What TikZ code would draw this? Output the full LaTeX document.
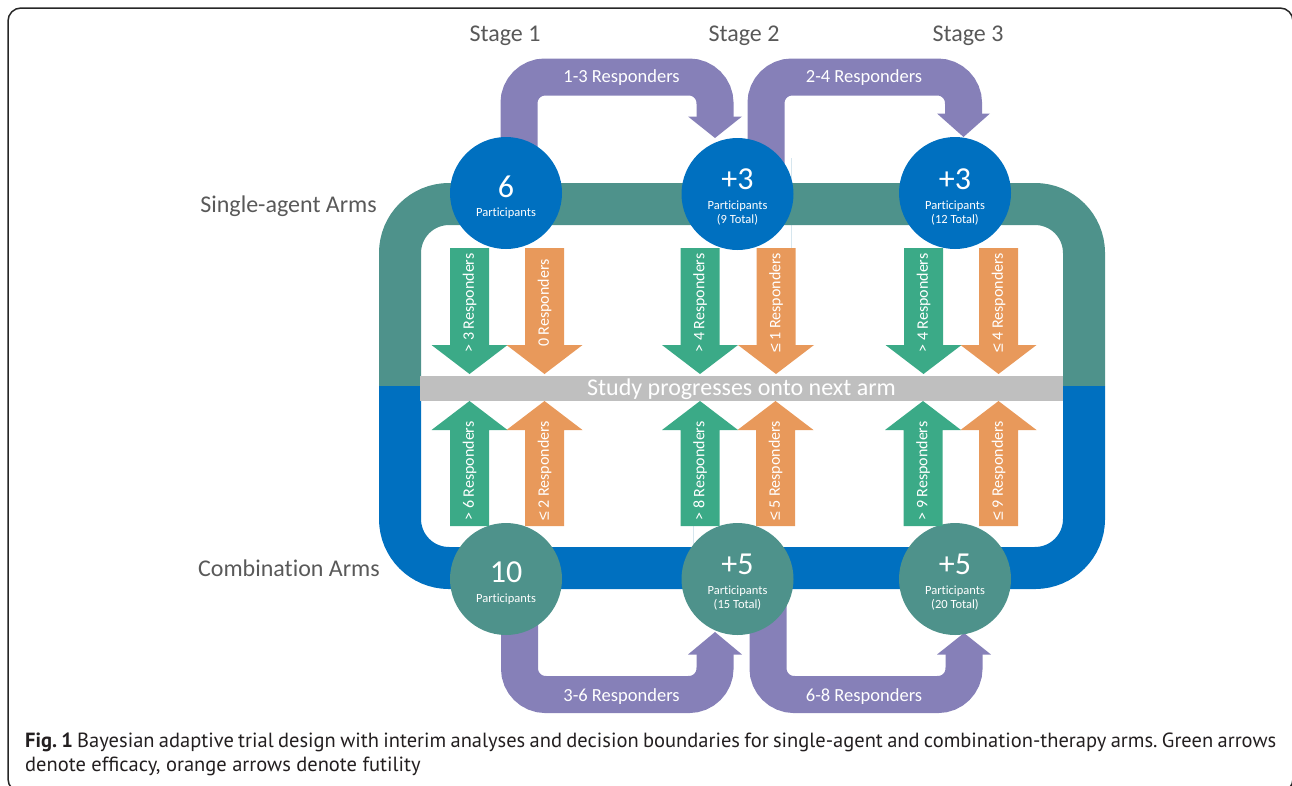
\documentclass[tikz,border=0pt]{standalone}
\usepackage{fontspec}
\setmainfont{Carlito}[Ligatures={NoCommon,NoRare}]
\newfontfamily\capfont{PT Sans}
\newfontfamily\lsansfont{Liberation Sans}
\newcommand{\leqsym}{{\lsansfont ≤}}
\frenchspacing

\definecolor{loopteal}{HTML}{4E928B}
\definecolor{loopblue}{HTML}{0070C0}
\definecolor{purp}{HTML}{8680B8}
\definecolor{grn}{HTML}{3BAA87}
\definecolor{org}{HTML}{E8995B}
\definecolor{barg}{HTML}{BFBFBF}
\definecolor{lblg}{HTML}{595959}
\definecolor{capink}{HTML}{231F20}
\definecolor{hairline}{HTML}{D6E6EE}

% down-pointing decision arrow (name, x centre, colour, label)
\newcommand{\decdown}[4]{%
  \fill[#3] (#2-19.5,248) -- (#2+19.5,248) -- (#2+19.5,345) -- (#2+38,345)
     -- (#2,374) -- (#2-38,345) -- (#2-19.5,345) -- cycle;
  \node[declabel] (#1) at (#2,303) {#4};
}
% up-pointing decision arrow (name, x centre, colour, label)
\newcommand{\decup}[4]{%
  \fill[#3] (#2-19.5,526) -- (#2+19.5,526) -- (#2+19.5,430) -- (#2+38,430)
     -- (#2,401) -- (#2-38,430) -- (#2-19.5,430) -- cycle;
  \node[declabel] (#1) at (#2,471) {#4};
}

\begin{document}
\begin{tikzpicture}[x=1pt,y=-1pt,
  stagelbl/.style={font=\fontsize{24}{28}\selectfont, text=lblg, anchor=base, inner sep=0},
  armlbl/.style={font=\fontsize{24}{28}\selectfont, text=lblg, anchor=base east, inner sep=0},
  bignum/.style={font=\fontsize{32}{36}\selectfont, text=white, anchor=base, inner sep=0},
  smalltxt/.style={font=\fontsize{12.5}{14}\selectfont, text=white, anchor=base, inner sep=0},
  resptxt/.style={font=\fontsize{18.5}{22}\selectfont, text=white, anchor=base, inner sep=0},
  declabel/.style={font=\fontsize{16}{19}\selectfont, text=white, rotate=90, inner sep=0},
  barlbl/.style={font=\fontsize{24}{28}\selectfont, text=white, anchor=base, inner sep=0},
  pband/.style={draw=purp, line width=37, rounded corners=26},
  headtri/.style={fill=purp},
  loopband/.style={line width=42, rounded corners=49},
  topcirc/.style={circle, fill=loopblue, minimum size=112, inner sep=0},
  botcirc/.style={circle, fill=loopteal, minimum size=112, inner sep=0},
  captxt/.style={font=\capfont\fontsize{20.5}{24}\selectfont, text=capink, anchor=base west, inner sep=0}
]
\useasboundingbox (0,0) rectangle (1292,785);

% outer frame
\begin{scope}
  \clip (0,0) rectangle (1292,785);
  \draw[line width=1.5, draw=black!85, rounded corners=13] (8,8) rectangle (1293,792);
\end{scope}

% faint guide lines
\draw[hairline, line width=0.8] (791,158) -- (791,248);
\draw[hairline, line width=0.8] (693,526) -- (693,548);

% single-agent loop (teal) and combination loop (blue)
\draw[loopband, loopteal] (400,386) -- (400,204) -- (1084,204) -- (1084,386);
\draw[loopband, loopblue] (400,386) -- (400,568) -- (1084,568) -- (1084,386);

% central bar
\fill[barg] (420,376) rectangle (1063,401);
\node[barlbl] (bar) at (741.5,395) {Study progresses onto next arm};

% stage headings and arm labels
\node[stagelbl] (st1) at (505,41) {Stage 1};
\node[stagelbl] (st2) at (744,41) {Stage 2};
\node[stagelbl] (st3) at (968,41) {Stage 3};
\node[armlbl] (single) at (377,212) {Single-agent Arms};
\node[armlbl] (combo) at (380,576) {Combination Arms};

% purple progression arrows (top)
\coordinate (pa1) at (519,160);
\coordinate (pa1e) at (715,117);
\draw[pband] (pa1) -- (519,77) -- (715,77) -- (pa1e);
\fill[headtri] (688,116.5) -- (742,116.5) -- (715,138) -- cycle;
\node[resptxt] (r13) at (621.5,82) {1-3 Responders};

\coordinate (pa2) at (766,170);
\coordinate (pa2e) at (963.5,114);
\draw[pband] (pa2) -- (766,77) -- (963.5,77) -- (pa2e);
\fill[headtri] (937,113.5) -- (990,113.5) -- (963.5,137) -- cycle;
\node[resptxt] (r24) at (864,82) {2-4 Responders};

% purple progression arrows (bottom)
\coordinate (pb1) at (519.5,610);
\coordinate (pb1e) at (715,654);
\draw[pband] (pb1) -- (519.5,694.5) -- (715,694.5) -- (pb1e);
\fill[headtri] (688,654.5) -- (742,654.5) -- (715,632) -- cycle;
\node[resptxt] (r36) at (621.5,701) {3-6 Responders};

\coordinate (pb2) at (768,590);
\coordinate (pb2e) at (964,654);
\draw[pband] (pb2) -- (768,694.5) -- (964,694.5) -- (pb2e);
\fill[headtri] (937,654.5) -- (991,654.5) -- (964,633) -- cycle;
\node[resptxt] (r68) at (864,701) {6-8 Responders};

% participant circles, single-agent arms
\node[topcirc] (s1) at (506,193) {};
\node[topcirc] (s2) at (737.5,194) {};
\node[topcirc] (s3) at (955,193) {};
\node[bignum] (s1n) at (506,197) {6};
\node[smalltxt] (s1p) at (506,216) {Participants};
\node[bignum] (s2n) at (737.5,189) {+3};
\node[smalltxt] (s2p) at (737.5,209) {Participants};
\node[smalltxt] (s2t) at (737.5,223) {(9 Total)};
\node[bignum] (s3n) at (955,189) {+3};
\node[smalltxt] (s3p) at (955,209) {Participants};
\node[smalltxt] (s3t) at (955,223) {(12 Total)};

% participant circles, combination arms
\node[botcirc] (c1) at (506,579) {};
\node[botcirc] (c2) at (737.5,579) {};
\node[botcirc] (c3) at (955,579) {};
\node[bignum] (c1n) at (506,582) {10};
\node[smalltxt] (c1p) at (506,602) {Participants};
\node[bignum] (c2n) at (737.5,574) {+5};
\node[smalltxt] (c2p) at (737.5,594) {Participants};
\node[smalltxt] (c2t) at (737.5,608) {(15 Total)};
\node[bignum] (c3n) at (955,574) {+5};
\node[smalltxt] (c3p) at (955,594) {Participants};
\node[smalltxt] (c3t) at (955,608) {(20 Total)};

% decision arrows, single-agent arms
\decdown{d1g}{469.5}{grn}{> 3 Responders}
\decdown{d1o}{544.5}{org}{0 Responders}
\decdown{d2g}{700}{grn}{> 4 Responders}
\decdown{d2o}{776}{org}{\leqsym\ 1 Responders}
\decdown{d3g}{923.5}{grn}{> 4 Responders}
\decdown{d3o}{998.5}{org}{\leqsym\ 4 Responders}

% decision arrows, combination arms
\decup{u1g}{469.5}{grn}{> 6 Responders}
\decup{u1o}{544.5}{org}{\leqsym\ 2 Responders}
\decup{u2g}{700}{grn}{> 8 Responders}
\decup{u2o}{775.5}{org}{\leqsym\ 5 Responders}
\decup{u3g}{923}{grn}{> 9 Responders}
\decup{u3o}{998.5}{org}{\leqsym\ 9 Responders}

% caption
\node[captxt] (cap1) at (25,747) {\makebox[1251pt][s]{\textbf{Fig. 1} Bayesian adaptive trial design with interim analyses and decision boundaries for single-agent and combination-therapy arms. Green arrows}};
\node[captxt] (cap2) at (25,771) {denote efficacy, orange arrows denote futility};
\end{tikzpicture}
\end{document}
